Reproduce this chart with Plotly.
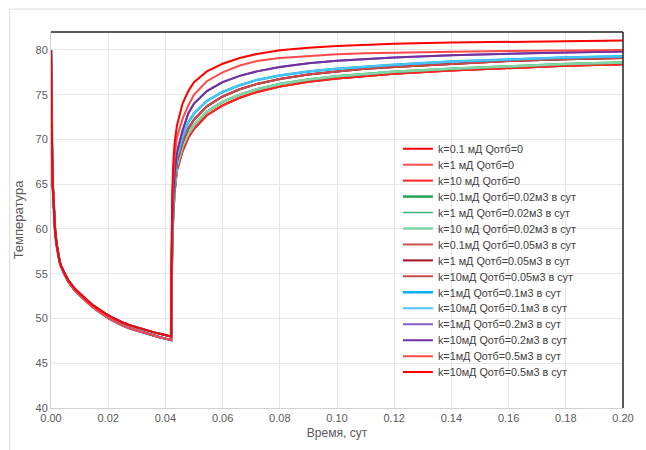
import plotly.graph_objects as go

# Drawdown period (well producing), days
t_draw = [0.0, 0.0001, 0.0002, 0.0003, 0.0004, 0.0006, 0.0008, 0.001, 0.0014, 0.0019,
          0.0025, 0.003, 0.0035, 0.004, 0.0048, 0.006, 0.007, 0.008, 0.009, 0.010,
          0.011, 0.0125, 0.014, 0.0155, 0.017, 0.019, 0.021, 0.023, 0.025, 0.0275,
          0.030, 0.032, 0.034, 0.036, 0.038, 0.040, 0.042]
# two drawdown temperature profiles
T_draw_hi = [80.0, 75.0, 72.0, 70.0, 68.0, 65.0, 63.3, 62.0, 60.0, 58.4,
             57.1, 56.4, 55.9, 55.5, 55.0, 54.3, 53.85, 53.45, 53.1, 52.8,
             52.5, 52.05, 51.65, 51.3, 50.95, 50.55, 50.17, 49.83, 49.55, 49.25,
             49.0, 48.8, 48.62, 48.45, 48.3, 48.15, 48.0]
T_draw_lo = [80.0, 75.0, 72.0, 70.0, 68.0, 65.0, 63.3, 62.0, 60.0, 58.38,
             57.07, 56.36, 55.84, 55.43, 54.9, 54.17, 53.7, 53.28, 52.92, 52.6,
             52.28, 51.85, 51.43, 51.06, 50.7, 50.28, 49.87, 49.51, 49.22, 48.9,
             48.65, 48.44, 48.25, 48.07, 47.91, 47.75, 47.6]

# Recovery period, days
t_rec = [0.0421, 0.0422, 0.0424, 0.0427, 0.0432, 0.044, 0.046, 0.048, 0.050, 0.0545, 0.060,
         0.066, 0.072, 0.080, 0.090, 0.100, 0.110, 0.120, 0.140, 0.160, 0.180, 0.200]
T_rec_q0 = [51.5, 54.5, 58.0, 61.0, 64.0, 66.5, 68.7, 70.2, 71.2, 72.7, 73.8,
            74.65, 75.3, 75.9, 76.45, 76.8, 77.1, 77.35, 77.7, 78.0, 78.22, 78.4]
T_rec_q002 = [52.0, 55.0, 58.5, 61.5, 64.5, 67.0, 69.2, 70.6, 71.6, 73.1, 74.2,
              75.0, 75.6, 76.2, 76.7, 77.05, 77.3, 77.55, 77.9, 78.2, 78.42, 78.6]
T_rec_q005 = [52.5, 55.5, 59.0, 62.0, 65.0, 67.5, 69.7, 71.2, 72.2, 73.7, 74.8,
              75.6, 76.2, 76.75, 77.25, 77.6, 77.9, 78.1, 78.45, 78.75, 78.95, 79.1]
T_rec_q01 = [53.0, 56.0, 59.5, 62.5, 65.5, 68.0, 70.3, 71.9, 72.9, 74.3, 75.3,
             76.05, 76.65, 77.15, 77.6, 77.9, 78.15, 78.35, 78.7, 78.95, 79.15, 79.3]
T_rec_q02 = [54.0, 57.0, 60.5, 63.5, 66.0, 68.5, 71.0, 72.9, 74.0, 75.4, 76.4,
             77.1, 77.6, 78.1, 78.5, 78.8, 79.0, 79.15, 79.4, 79.58, 79.72, 79.82]
T_rec_q05_k1 = [55.0, 58.5, 62.5, 65.5, 68.0, 70.2, 72.3, 73.8, 75.0, 76.5, 77.5,
                78.25, 78.75, 79.1, 79.35, 79.52, 79.63, 79.7, 79.8, 79.88, 79.94, 79.98]
T_rec_q05_k10 = [56.0, 60.0, 64.0, 67.0, 69.5, 71.5, 74.0, 75.4, 76.4, 77.6, 78.45,
                 79.1, 79.55, 79.95, 80.25, 80.45, 80.58, 80.68, 80.82, 80.92, 81.0, 81.05]

names = [
    "k=0.1 мД Qотб=0", "k=1 мД Qотб=0", "k=10 мД Qотб=0",
    "k=0.1мД Qотб=0.02м3 в сут", "k=1 мД Qотб=0.02м3 в сут", "k=10 мД Qотб=0.02м3 в сут",
    "k=0.1мД Qотб=0.05м3 в сут", "k=1 мД Qотб=0.05м3 в сут", "k=10мД Qотб=0.05м3 в сут",
    "k=1мД Qотб=0.1м3 в сут", "k=10мД Qотб=0.1м3 в сут",
    "k=1мД Qотб=0.2м3 в сут", "k=10мД Qотб=0.2м3 в сут",
    "k=1мД Qотб=0.5м3 в сут", "k=10мД Qотб=0.5м3 в сут",
]
draw_sets = [T_draw_lo, T_draw_lo, T_draw_hi,
             T_draw_lo, T_draw_lo, T_draw_hi,
             T_draw_lo, T_draw_lo, T_draw_hi,
             T_draw_lo, T_draw_hi,
             T_draw_lo, T_draw_hi,
             T_draw_lo, T_draw_hi]
rec_sets = [T_rec_q0, T_rec_q0, T_rec_q0,
            T_rec_q002, T_rec_q002, T_rec_q002,
            T_rec_q005, T_rec_q005, T_rec_q005,
            T_rec_q01, T_rec_q01,
            T_rec_q02, T_rec_q02,
            T_rec_q05_k1, T_rec_q05_k10]
colors = ["#FF0000", "#FF5050", "#FF2020",
          "#24A356", "#3CB371", "#80D4A6",
          "#C8504D", "#A0101E", "#C84B4B",
          "#00B0F0", "#4CC4F2",
          "#8A5CC0", "#7030A0",
          "#FF4848", "#FF0000"]
widths = [2, 2, 2, 2.5, 1.5, 2.5, 2, 2, 2, 2.5, 2, 2, 2, 2, 2]

L, R, T, B = 51, 13, 32, 41
W, H = 646, 450
pw, ph = W - L - R, H - T - B

fig = go.Figure()
legends = {}
for i, (name, d, r, c, w) in enumerate(zip(names, draw_sets, rec_sets, colors, widths)):
    key = "legend" if i == 0 else f"legend{i + 1}"
    fig.add_trace(go.Scatter(x=t_draw + t_rec, y=d + r, mode="lines", name=name,
                             line=dict(color=c, width=w), legend=key))
    # one legend box per entry so rows can sit 16 px apart
    yc = 149 + 16 * i
    legends[key] = dict(x=(404 - L) / pw, y=(H - B - yc) / ph, xanchor="left", yanchor="middle",
                        bgcolor="rgba(0,0,0,0)", font=dict(size=10.8, color="#404040"),
                        itemwidth=30, borderwidth=0)

fig.update_layout(
    width=W, height=H,
    margin=dict(l=L, r=R, t=T, b=B),
    paper_bgcolor="white", plot_bgcolor="white",
    font=dict(family="Liberation Sans, Arial, sans-serif", size=11, color="#595959"),
    showlegend=True,
    xaxis=dict(range=[0, 0.2], dtick=0.02, tick0=0, tickformat=".2f",
               showgrid=True, gridcolor="#E6E6E6", gridwidth=1,
               showline=True, linecolor="#D0D0D0", linewidth=1,
               zeroline=False, ticks="",
               title=dict(text="Время, сут", font=dict(size=12, color="#595959"), standoff=5)),
    yaxis=dict(range=[40, 82], dtick=5, tick0=40,
               showgrid=True, gridcolor="#E6E6E6", gridwidth=1,
               showline=True, linecolor="#D0D0D0", linewidth=1,
               zeroline=False, ticks="",
               title=dict(text="Температура", font=dict(size=13, color="#595959"), standoff=8)),
    shapes=[
        # outer frame of the chart area
        dict(type="rect", xref="paper", yref="paper",
             x0=(9 - L) / pw, x1=(W + 20 - L) / pw,
             y0=(H - B - (H + 20)) / ph, y1=(H - B - 9) / ph,
             line=dict(color="#D9D9D9", width=1), layer="below"),
        # dark top and right edges of the plot area
        dict(type="line", xref="paper", yref="paper", x0=0, x1=1, y0=1, y1=1,
             line=dict(color="#222222", width=1.5)),
        dict(type="line", xref="paper", yref="paper", x0=1, x1=1, y0=0, y1=1,
             line=dict(color="#222222", width=1.5)),
    ],
)
fig.update_layout(**legends)

fig.write_html("out.html")
